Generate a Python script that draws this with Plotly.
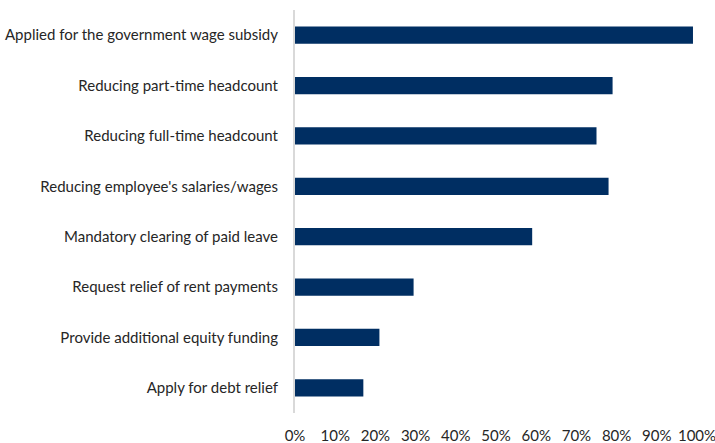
import plotly.graph_objects as go

# Measures taken by businesses (share of respondents, %)
categories = [
    "Applied for the government wage subsidy",
    "Reducing part-time headcount",
    "Reducing full-time headcount",
    "Reducing employee's salaries/wages",
    "Mandatory clearing of paid leave",
    "Request relief of rent payments",
    "Provide additional equity funding",
    "Apply for debt relief",
]
values = [99, 79, 75, 78, 59, 29.5, 21, 17]
x_ticks = list(range(0, 101, 10))
x_tick_labels = [f"{t}%" for t in x_ticks]

fig = go.Figure(
    go.Bar(
        x=values,
        y=categories,
        orientation="h",
        marker=dict(color="#002E62", line=dict(width=0)),
        width=0.34,
    )
)

fig.update_layout(
    width=715,
    height=443,
    margin=dict(l=295, r=18, t=10, b=30),
    plot_bgcolor="white",
    paper_bgcolor="white",
    showlegend=False,
    font=dict(family="Lato", size=15, color="#262626"),
)

fig.update_xaxes(
    range=[0, 100],
    tickvals=x_ticks,
    ticktext=x_tick_labels,
    showgrid=False,
    zeroline=False,
    showline=False,
    ticks="",
    ticklabelstandoff=12,
    ticklabeloverflow="allow",
    automargin=False,
    fixedrange=True,
)

fig.update_yaxes(
    categoryorder="array",
    categoryarray=categories[::-1],
    showgrid=False,
    zeroline=False,
    showline=True,
    linecolor="#d9d9d9",
    linewidth=2,
    ticks="",
    ticklabelstandoff=12,
    automargin=False,
    fixedrange=True,
)

fig.write_html("out.html")
